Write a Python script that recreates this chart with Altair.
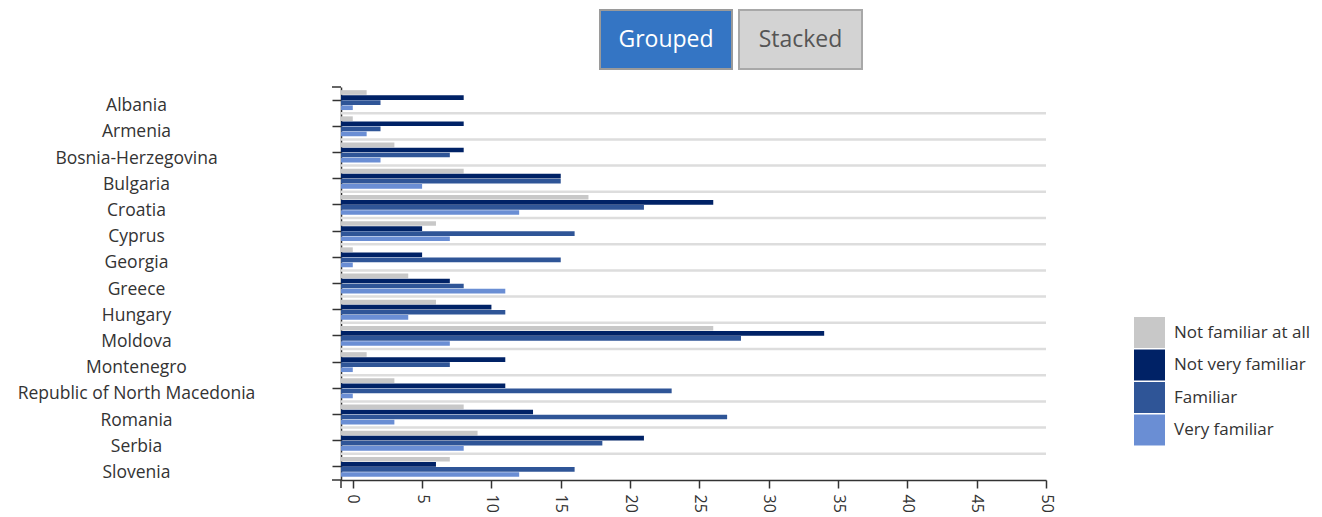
import altair as alt
import pandas as pd

countries = ["Albania", "Armenia", "Bosnia-Herzegovina", "Bulgaria", "Croatia", "Cyprus",
             "Georgia", "Greece", "Hungary", "Moldova", "Montenegro",
             "Republic of North Macedonia", "Romania", "Serbia", "Slovenia"]
series = ["Not familiar at all", "Not very familiar", "Familiar", "Very familiar"]
colors = ["#c8c8c8", "#002266", "#2f5597", "#6a8ed4"]

not_at_all = [1, 0, 3, 8, 17, 6, 0, 4, 6, 26, 1, 3, 8, 9, 7]
not_very = [8, 8, 8, 15, 26, 5, 5, 7, 10, 34, 11, 11, 13, 21, 6]
familiar = [2, 2, 7, 15, 21, 16, 15, 8, 11, 28, 7, 23, 27, 18, 16]
very = [0, 1, 2, 5, 12, 7, 0, 11, 4, 7, 0, 0, 3, 8, 12]

x_ticks = [0, 5, 10, 15, 20, 25, 30, 35, 40, 45, 50]
buttons = ["Grouped", "Stacked"]

rows = []
for s, vals in zip(series, [not_at_all, not_very, familiar, very]):
    for c, v in zip(countries, vals):
        rows.append({"country": c, "series": s, "value": v})
df = pd.DataFrame(rows)

W, H = 705, 393
FONT = "Open Sans"

y_scale = alt.Scale(domain=countries, paddingInner=0, paddingOuter=0)
y_axis = alt.Axis(title=None, labelAlign="center", labelPadding=196, labelLimit=400,
                  labelFontSize=17.5, labelFont=FONT, labelColor="#333", tickSize=9,
                  labelOffset=6,
                  tickColor="#333", domainColor="#333", domainWidth=1.5, tickWidth=1.5,
                  grid=False)

bars = alt.Chart(df).mark_bar(height={"band": 1}).encode(
    y=alt.Y("country:N", scale=y_scale, axis=y_axis),
    yOffset=alt.YOffset("series:N", sort=series,
                        scale=alt.Scale(domain=series, paddingInner=0.08, paddingOuter=0.62)),
    x=alt.X("value:Q", stack=None,
            scale=alt.Scale(domain=[-0.85, 50], nice=False, zero=False),
            axis=alt.Axis(title=None, values=x_ticks, labelAngle=90, labelAlign="left",
                          labelBaseline="middle", labelPadding=6, labelFontSize=16,
                          labelFont=FONT, labelColor="#333", tickSize=8, tickColor="#333",
                          domainColor="#333", domainWidth=1.5, tickWidth=1.5,
                          labelFlush=False, labelOverlap=False, grid=False)),
    x2=alt.value(0),
    color=alt.Color("series:N", sort=series,
                    scale=alt.Scale(domain=series, range=colors),
                    legend=alt.Legend(title=None, orient="none", legendX=793, legendY=230,
                                      symbolType="square", symbolSize=961,
                                      symbolStrokeWidth=0, symbolOpacity=1,
                                      labelFontSize=17, labelFont=FONT, labelColor="#333",
                                      labelOffset=9, rowPadding=1.5, padding=0,
                                      labelLimit=300)),
)

sep_df = pd.DataFrame({"country": countries[:-1]})
separators = alt.Chart(sep_df).mark_rule(color="#dddddd", strokeWidth=2.5).encode(
    y=alt.Y("country:N", scale=y_scale, axis=y_axis, bandPosition=1),
    x=alt.value(0), x2=alt.value(W),
)

one = pd.DataFrame({"label": ["x"]})
tick_top = alt.Chart(one).mark_rule(color="#333", strokeWidth=1.5).encode(
    x=alt.value(-9), x2=alt.value(0), y=alt.value(0))
tick_bl = alt.Chart(one).mark_rule(color="#333", strokeWidth=1.5).encode(
    x=alt.value(0), y=alt.value(H), y2=alt.value(H + 8))
tick_lb = alt.Chart(one).mark_rule(color="#333", strokeWidth=1.5).encode(
    x=alt.value(-9), x2=alt.value(0), y=alt.value(H))

b1 = pd.DataFrame({"label": [buttons[0]]})
b2 = pd.DataFrame({"label": [buttons[1]]})
btn1 = alt.Chart(b1).mark_rect(color="#3475c4", stroke="#9a9a9a", strokeWidth=2).encode(
    x=alt.value(259), x2=alt.value(391), y=alt.value(-77), y2=alt.value(-18))
btn1t = alt.Chart(b1).mark_text(color="white", fontSize=23, font=FONT).encode(
    x=alt.value(325), y=alt.value(-47), text="label:N")
btn2 = alt.Chart(b2).mark_rect(color="#d3d3d3", stroke="#a8a8a8", strokeWidth=2).encode(
    x=alt.value(398), x2=alt.value(521), y=alt.value(-77), y2=alt.value(-18))
btn2t = alt.Chart(b2).mark_text(color="#555555", fontSize=23, font=FONT).encode(
    x=alt.value(459.5), y=alt.value(-47), text="label:N")

chart = alt.layer(
    separators, bars, tick_top, tick_bl, tick_lb, btn1, btn1t, btn2, btn2t
).properties(
    width=W, height=H,
    autosize=alt.AutoSizeParams(type="none"),
    padding={"left": 333, "top": 79, "right": 268, "bottom": 45},
    background="white",
).configure_view(stroke=None)

chart.save("out.html", embed_options={"renderer": "svg", "actions": False})
